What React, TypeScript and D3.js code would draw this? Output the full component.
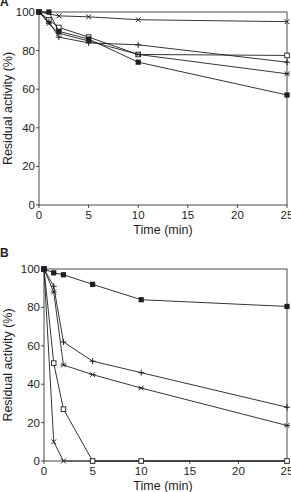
import * as d3 from 'd3'

type Pt = [number, number]
type Marker = 'fsq' | 'osq' | 'x' | 'plus' | 'star'

// ── Panel A ────────────────────────────────────────────────
const A_FILLED: Pt[] = [[0, 100], [1, 100], [2, 90], [5, 86], [10, 74], [25, 57]]
const A_CROSS: Pt[] = [[0, 100], [2, 98], [5, 97.5], [10, 96], [25, 95]]
const A_PLUS: Pt[] = [[0, 100], [1, 95], [2, 87], [5, 84], [10, 83], [25, 74]]
const A_OPEN: Pt[] = [[0, 100], [1, 96], [2, 92], [5, 87], [10, 78], [25, 77.5]]
const A_STAR: Pt[] = [[0, 100], [1, 94], [2, 89], [5, 85], [10, 78], [25, 68]]

// ── Panel B ────────────────────────────────────────────────
const B_FILLED: Pt[] = [[0, 100], [1, 98], [2, 97], [5, 92], [10, 84], [25, 80.5]]
const B_PLUS: Pt[] = [[0, 100], [1, 91], [2, 62], [5, 52], [10, 46], [25, 28]]
const B_STAR: Pt[] = [[0, 100], [1, 88], [2, 50], [5, 45], [10, 38], [25, 18.5]]
const B_OPEN: Pt[] = [[0, 100], [1, 51], [2, 27], [5, 0], [10, 0], [25, 0]]
const B_CROSS: Pt[] = [[0, 100], [1, 10], [2, 0], [5, 0], [10, 0], [25, 0]]

const X_TICKS = [0, 5, 10, 15, 20, 25]
const Y_TICKS = [0, 20, 40, 60, 80, 100]

const INK = '#1e1e1e'
const FONT = 'Liberation Sans, Arial, sans-serif'

function Mark({ type, cx, cy }: { type: Marker; cx: number; cy: number }) {
  const s = 2.4
  switch (type) {
    case 'fsq':
      return <rect x={cx - 2.6} y={cy - 2.6} width={5.2} height={5.2} fill={INK} />
    case 'osq':
      return <rect x={cx - 2.3} y={cy - 2.3} width={4.6} height={4.6} fill="white" stroke={INK} strokeWidth={0.9} />
    case 'x':
      return <path d={`M${cx - s},${cy - s}L${cx + s},${cy + s}M${cx - s},${cy + s}L${cx + s},${cy - s}`} stroke={INK} strokeWidth={1} />
    case 'plus':
      return <path d={`M${cx - 3},${cy}H${cx + 3}M${cx},${cy - 3}V${cy + 3}`} stroke={INK} strokeWidth={1} />
    case 'star':
      return <path d={`M${cx - 3},${cy}H${cx + 3}M${cx - s},${cy - s}L${cx + s},${cy + s}M${cx - s},${cy + s}L${cx + s},${cy - s}`} stroke={INK} strokeWidth={0.9} />
  }
}

interface PanelProps {
  letter: string
  letterY: number
  left: number
  top: number
  bottom: number
  series: { pts: Pt[]; m: Marker }[]
}

function Panel({ letter, letterY, left, top, bottom, series }: PanelProps) {
  const right = 287
  const x = d3.scaleLinear().domain([0, 25]).range([left, right])
  const y = d3.scaleLinear().domain([0, 100]).range([bottom, top])
  const line = d3.line<Pt>().x(d => x(d[0])).y(d => y(d[1]))

  return (
    <g>
      <text x={0} y={letterY} fontFamily={FONT} fontSize={12} fontWeight={700} fill={INK}>{letter}</text>
      <rect x={left} y={top} width={right - left} height={bottom - top} fill="none" stroke={INK} strokeWidth={0.8} />
      {Y_TICKS.map(t => (
        <g key={t}>
          <line x1={left - 3} x2={left} y1={y(t)} y2={y(t)} stroke={INK} strokeWidth={0.8} />
          <text x={left - 4} y={y(t)} dy="0.35em" textAnchor="end" fontFamily={FONT} fontSize={11.5} fill={INK}>{t}</text>
        </g>
      ))}
      {X_TICKS.map(t => (
        <g key={t}>
          <line x1={x(t)} x2={x(t)} y1={bottom} y2={bottom + 3} stroke={INK} strokeWidth={0.8} />
          <text x={x(t)} y={bottom + 14} textAnchor="middle" fontFamily={FONT} fontSize={11.5} fill={INK}>{t}</text>
        </g>
      ))}
      <text x={163} y={bottom + 29} textAnchor="middle" fontFamily={FONT} fontSize={12.5} fill={INK}>Time (min)</text>
      <text transform={`translate(12,${(top + bottom) / 2}) rotate(-90)`} textAnchor="middle" fontFamily={FONT} fontSize={12.5} fill={INK}>Residual activity (%)</text>
      {series.map((s, i) => (
        <g key={i}>
          <path d={line(s.pts) ?? ''} fill="none" stroke={INK} strokeWidth={0.9} />
          {s.pts.map((p, j) => <Mark key={j} type={s.m} cx={x(p[0])} cy={y(p[1])} />)}
        </g>
      ))}
    </g>
  )
}

export default function App() {
  return (
    <svg width={291} height={492} viewBox="0 0 291 492"
      style={{ position: 'absolute', left: 0, top: 0, background: 'white' }}>
      <Panel letter="A" letterY={6} left={39} top={12} bottom={205}
        series={[
          { pts: A_OPEN, m: 'osq' },
          { pts: A_STAR, m: 'star' },
          { pts: A_PLUS, m: 'plus' },
          { pts: A_CROSS, m: 'x' },
          { pts: A_FILLED, m: 'fsq' },
        ]} />
      <Panel letter="B" letterY={257} left={44} top={269} bottom={461}
        series={[
          { pts: B_CROSS, m: 'x' },
          { pts: B_OPEN, m: 'osq' },
          { pts: B_STAR, m: 'star' },
          { pts: B_PLUS, m: 'plus' },
          { pts: B_FILLED, m: 'fsq' },
        ]} />
    </svg>
  )
}
